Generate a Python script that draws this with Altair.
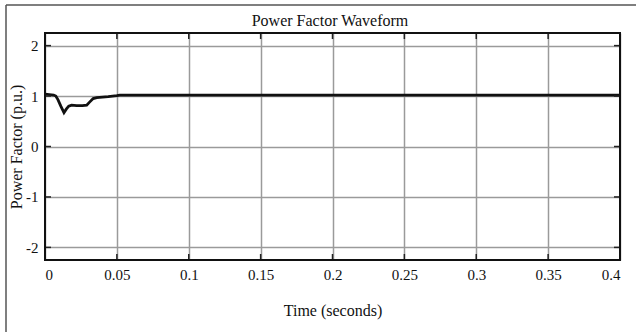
import altair as alt
import pandas as pd

# Waveform samples
time_s = [0.0, 0.003, 0.006, 0.0075, 0.009, 0.011, 0.0132, 0.0148, 0.0165, 0.0185,
          0.022, 0.026, 0.029, 0.031, 0.0335, 0.036, 0.040, 0.044, 0.047, 0.050,
          0.052, 0.10, 0.15, 0.20, 0.25, 0.30, 0.35, 0.40]
power_factor = [1.04, 1.03, 1.02, 1.0, 0.93, 0.80, 0.67, 0.74, 0.80, 0.82,
                0.81, 0.81, 0.82, 0.88, 0.95, 0.97, 0.98, 0.99, 1.0, 1.01,
                1.02, 1.02, 1.02, 1.02, 1.02, 1.02, 1.02, 1.02]

x_ticks = [0, 0.05, 0.1, 0.15, 0.2, 0.25, 0.3, 0.35, 0.4]
y_ticks = [-2, -1, 0, 1, 2]

chart_title = "Power Factor Waveform"

df = pd.DataFrame({"t": time_s, "pf": power_factor})
xt = pd.DataFrame({"t": x_ticks})
yt = pd.DataFrame({"pf": y_ticks})
one = pd.DataFrame({"k": [0]})  # single row for decorations

FONT = "Liberation Serif"

x_scale = alt.Scale(domain=[0, 0.4], nice=False, zero=False)
y_scale = alt.Scale(domain=[-2.25, 2.25], nice=False, zero=False)

line = alt.Chart(df).mark_line(color="#111111", strokeWidth=2.8, clip=True).encode(
    x=alt.X(
        "t:Q",
        scale=x_scale,
        axis=alt.Axis(
            values=x_ticks,
            title="Time (seconds)",
            labelExpr="datum.value == 0 ? '0' : format(datum.value, '.2~f')",
            grid=True,
            gridColor="#9a9a9a",
            gridWidth=1.5,
            domain=False,
            ticks=False,
            labelPadding=7,
            titleY=50,
            titleBaseline="middle",
        ),
    ),
    y=alt.Y(
        "pf:Q",
        scale=y_scale,
        axis=alt.Axis(
            values=y_ticks,
            title="Power Factor (p.u.)",
            labelExpr="datum.value < 0 ? '-' + abs(datum.value) : '' + datum.value",
            grid=True,
            gridColor="#9a9a9a",
            gridWidth=1.5,
            domain=False,
            ticks=False,
            labelPadding=7,
            titleX=-29,
            titleY=113.5,
            titleBaseline="middle",
        ),
    ),
)

# inward tick marks (MATLAB style) on all four sides
tick_style = dict(color="#222222", strokeWidth=1.5)
xt_bottom = alt.Chart(xt).mark_rule(**tick_style).encode(
    x=alt.X("t:Q", scale=x_scale), y=alt.value(227), y2=alt.value(221)
)
xt_top = alt.Chart(xt).mark_rule(**tick_style).encode(
    x=alt.X("t:Q", scale=x_scale), y=alt.value(0), y2=alt.value(6)
)
yt_left = alt.Chart(yt).mark_rule(**tick_style).encode(
    y=alt.Y("pf:Q", scale=y_scale), x=alt.value(0), x2=alt.value(6)
)
yt_right = alt.Chart(yt).mark_rule(**tick_style).encode(
    y=alt.Y("pf:Q", scale=y_scale), x=alt.value(569), x2=alt.value(575)
)

# plot-area frame
plot_frame = alt.Chart(one).mark_rect(
    fillOpacity=0, stroke="#111111", strokeWidth=2
).encode(x=alt.value(0), x2=alt.value(575), y=alt.value(0), y2=alt.value(227))

# outer frame (top and left edges of the figure box)
frame_left = alt.Chart(one).mark_rule(color="#555555", strokeWidth=1.5).encode(
    x=alt.value(-39), y=alt.value(-28), y2=alt.value(310)
)
frame_top = alt.Chart(one).mark_rule(color="#555555", strokeWidth=1.5).encode(
    x=alt.value(-39), x2=alt.value(600), y=alt.value(-28)
)

title_text = alt.Chart(one).mark_text(
    font=FONT, fontSize=16, color="#111111", align="center", baseline="alphabetic"
).encode(x=alt.value(285), y=alt.value(-7), text=alt.value(chart_title))

chart = (
    alt.layer(line, xt_bottom, xt_top, yt_left, yt_right,
              plot_frame, frame_left, frame_top, title_text)
    .properties(
        width=575,
        height=227,
        autosize=alt.AutoSizeParams(type="none"),
        padding={"left": 45, "top": 33, "right": 16, "bottom": 72},
    )
    .configure(background="white", font=FONT)
    .configure_view(stroke=None)
    .configure_axis(
        labelFont=FONT,
        labelFontSize=15,
        labelColor="#111111",
        titleFont=FONT,
        titleFontSize=16,
        titleFontWeight="normal",
        titleColor="#111111",
    )
)

chart.save("out.html", embed_options={"renderer": "svg", "actions": False})
